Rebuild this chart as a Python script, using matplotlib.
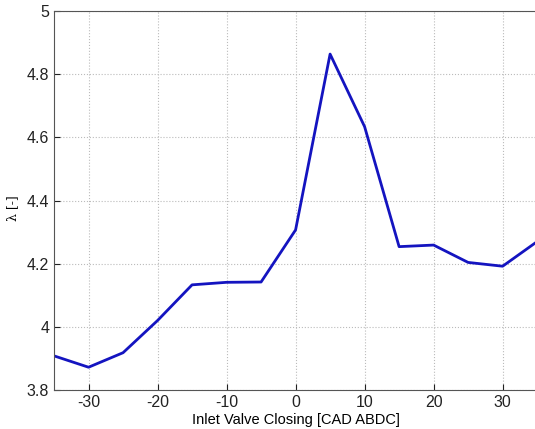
import matplotlib
matplotlib.use("Agg")
import matplotlib.pyplot as plt

# Inlet valve closing sweep
ivc = [-35, -30, -25, -20, -15, -10, -5, 0, 5, 10, 15, 20, 25, 30, 35]
lam = [3.908, 3.872, 3.918, 4.02, 4.133, 4.141, 4.142, 4.307, 4.864, 4.634,
       4.254, 4.259, 4.204, 4.192, 4.27]

xticks = [-30, -20, -10, 0, 10, 20, 30]
yticks = [3.8, 4.0, 4.2, 4.4, 4.6, 4.8, 5.0]
ytick_labels = ["3.8", "4", "4.2", "4.4", "4.6", "4.8", "5"]

plt.rcParams['font.family'] = ['Liberation Sans', 'DejaVu Sans']
plt.rcParams['axes.unicode_minus'] = False

fig = plt.figure(figsize=(5.35, 4.29), dpi=100)
ax = fig.add_axes([0.101, 0.091, 0.903, 0.883])

ax.plot(ivc, lam, color="#1414c0", linewidth=2)

ax.set_xlim(-35, 35)
ax.set_ylim(3.8, 5.0)
ax.set_xticks(xticks)
ax.set_yticks(yticks)
ax.set_yticklabels(ytick_labels)
ax.tick_params(direction="in", length=4, labelsize=11.5, colors="#222222")
ax.grid(True, linestyle=":", color="#bbbbbb", linewidth=0.8)
for s in ax.spines.values():
    s.set_color("#555555")

ax.set_xlabel("Inlet Valve Closing [CAD ABDC]", fontsize=10.5, labelpad=2)
ax.set_ylabel("λ [-]", fontsize=9, family=['DejaVu Serif'])
ax.yaxis.set_label_coords(-0.072, 0.48)

fig.savefig("out.png", dpi=100)
